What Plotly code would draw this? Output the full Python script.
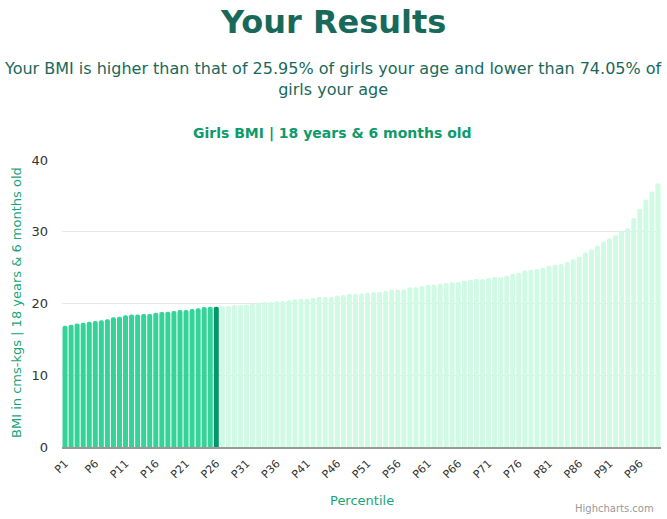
import plotly.graph_objects as go

percentiles = ["P%d" % i for i in range(1, 100)]
bmi_values = [
    16.9, 17.05, 17.2, 17.3, 17.45, 17.55, 17.65, 17.8, 18.1, 18.15,
    18.35, 18.45, 18.45, 18.55, 18.55, 18.7, 18.8, 18.85, 18.95, 19.1,
    19.1, 19.25, 19.35, 19.5, 19.55, 19.55, 19.6, 19.65, 19.8, 19.8,
    19.85, 20.0, 20.1, 20.2, 20.2, 20.3, 20.35, 20.45, 20.6, 20.65,
    20.65, 20.75, 20.9, 20.9, 20.95, 21.1, 21.2, 21.35, 21.35, 21.4,
    21.5, 21.6, 21.6, 21.75, 21.9, 21.95, 22.0, 22.25, 22.25, 22.45,
    22.6, 22.65, 22.75, 22.85, 23.0, 23.0, 23.2, 23.3, 23.4, 23.4,
    23.6, 23.7, 23.7, 23.9, 24.15, 24.3, 24.6, 24.7, 24.8, 25.0,
    25.25, 25.4, 25.5, 25.8, 26.15, 26.55, 27.1, 27.55, 28.1, 28.65,
    29.1, 29.5, 30.1, 30.5, 31.9, 33.25, 34.5, 35.6, 36.75,
]
your_percentile = 26
tick_labels = ["P%d" % i for i in range(1, 100, 5)]
y_ticks = [0, 10, 20, 30, 40]

below_color = "#34d399"
you_color = "#059669"
above_color = "#d1fae5"

colors = []
for i in range(1, 100):
    if i < your_percentile:
        colors.append(below_color)
    elif i == your_percentile:
        colors.append(you_color)
    else:
        colors.append(above_color)

font_family = "DejaVu Sans, sans-serif"

fig = go.Figure()
fig.add_trace(go.Bar(
    x=percentiles,
    y=bmi_values,
    marker_color=colors,
    marker_line_width=0,
    marker_cornerradius=2,
    showlegend=False,
))

fig.update_layout(
    width=667,
    height=519,
    margin=dict(l=62, r=6, t=160, b=72),
    plot_bgcolor="white",
    paper_bgcolor="white",
    bargap=0.17,
    font=dict(family=font_family, size=13, color="#333333"),
)

fig.update_xaxes(
    type="category",
    tickmode="array",
    tickvals=tick_labels,
    ticktext=tick_labels,
    tickangle=-45,
    tickfont=dict(size=11, color="#333333"),
    ticklabelstandoff=4,
    showline=True,
    linecolor="#999999",
    linewidth=1.5,
    ticks="",
    showgrid=False,
)
fig.update_yaxes(
    range=[0, 40],
    tickvals=y_ticks,
    tickfont=dict(size=13, color="#333333"),
    ticklabelstandoff=13,
    showgrid=True,
    gridcolor="#e6e6e6",
    zeroline=False,
    ticks="",
)

# titles placed relative to the plot area
fig.update_layout(annotations=[
    dict(text="<b>Your Results</b>", x=0.452, y=1.481, xref="paper", yref="paper",
         xanchor="center", yanchor="middle", showarrow=False,
         font=dict(size=32, color="#19695a")),
    dict(text="Your BMI is higher than that of 25.95% of girls your age and lower than 74.05% of<br>girls your age",
         x=0.452, y=1.282, xref="paper", yref="paper", xanchor="center", yanchor="middle",
         showarrow=False, font=dict(size=16, color="#19695a")),
    dict(text="<b>Girls BMI | 18 years & 6 months old</b>", x=0.452, y=1.0906,
         xref="paper", yref="paper", xanchor="center", yanchor="middle", showarrow=False,
         font=dict(size=14, color="#0e9a6a")),
    dict(text="Percentile", x=0.5, y=-0.188, xref="paper", yref="paper",
         xanchor="center", yanchor="middle",
         showarrow=False, font=dict(size=13, color="#17a57a")),
    dict(text="BMI in cms-kgs | 18 years & 6 months old", x=-0.0751, y=0.502,
         xref="paper", yref="paper", xanchor="center", yanchor="middle",
         showarrow=False, textangle=-90,
         font=dict(size=13, color="#17a57a")),
    dict(text="Highcharts.com", x=0.9917, y=-0.216, xref="paper", yref="paper",
         xanchor="right", yanchor="middle", showarrow=False,
         font=dict(size=10, color="#999999")),
])

fig.write_html("out.html", config={"displayModeBar": False},
               post_script="document.body.style.margin='0';")
